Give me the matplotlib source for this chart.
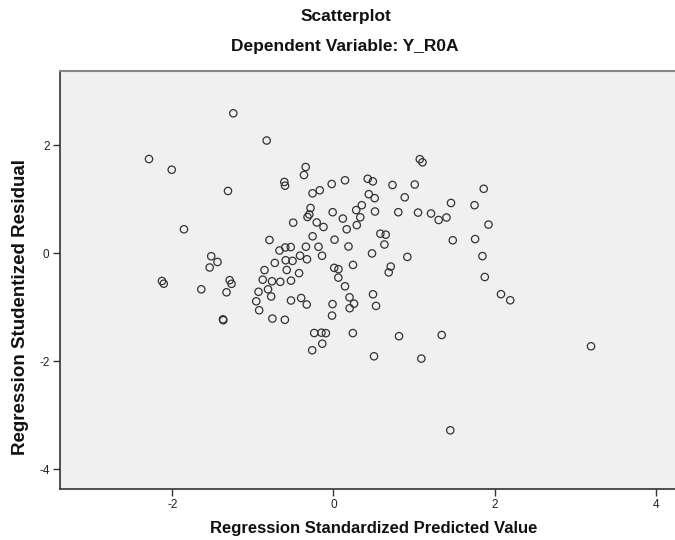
import matplotlib
matplotlib.use("Agg")
import matplotlib.pyplot as plt

plt.rcParams['font.family'] = ['Liberation Sans', 'DejaVu Sans']

title = "Scatterplot"
subtitle = "Dependent Variable: Y_R0A"
x_label = "Regression Standardized Predicted Value"
y_label = "Regression Studentized Residual"
x_ticks = [-2, 0, 2, 4]
y_ticks = [2, 0, -2, -4]

predicted = [
    -1.242, -0.828, -2.288, -2.006, -1.308, -0.344, -0.365, -0.609, -0.600, -0.021,
    0.144, 0.426, 0.489, -0.259, -0.169, 0.439, 0.512, 0.733, 1.009, 1.072,
    1.105, 1.865, 0.885, -1.854, -0.284, -0.299, -0.321, -0.009, 0.117, 0.352,
    0.283, 0.333, 0.290, 0.165, -0.499, -0.207, -0.123, -0.258, -0.793, 0.014,
    0.187, 0.516, 0.805, 1.050, 1.211, 1.306, 1.403, 1.459, 1.751, 1.924,
    0.583, 0.649, 0.633, 0.479, 0.917, 1.481, 1.758, 1.849, -0.669, -0.597,
    -0.529, -0.341, -0.185, -0.414, -0.328, -0.141, -0.592, -0.507, -0.727, -0.855,
    -0.579, -0.426, 0.010, 0.063, 0.243, -1.516, -1.438, -1.535, 0.711, 0.686,
    1.878, 0.061, 0.144, 0.200, 0.256, 0.202, -0.011, -0.017, 0.491, 0.529,
    2.079, 2.194, 0.241, 0.814, 1.344, 0.504, 1.091, 3.196, 1.450, -2.127,
    -2.105, -1.639, -1.287, -1.264, -1.326, -0.877, -0.762, -0.659, -0.526, -0.929,
    -0.811, -0.772, -0.957, -0.921, -0.526, -0.400, -0.331, -1.370, -1.366, -0.757,
    -0.602, -0.238, -0.148, -0.093, -0.138, -0.263,
]

residual = [
    2.591, 2.087, 1.744, 1.546, 1.152, 1.596, 1.448, 1.319, 1.250, 1.281,
    1.350, 1.378, 1.330, 1.109, 1.165, 1.093, 1.019, 1.263, 1.272, 1.741,
    1.683, 1.193, 1.035, 0.443, 0.837, 0.717, 0.670, 0.759, 0.641, 0.889,
    0.798, 0.665, 0.520, 0.443, 0.565, 0.569, 0.485, 0.313, 0.244, 0.250,
    0.124, 0.772, 0.759, 0.752, 0.735, 0.615, 0.661, 0.930, 0.889, 0.530,
    0.361, 0.343, 0.161, -0.004, -0.069, 0.239, 0.261, -0.054, 0.050, 0.106,
    0.113, 0.120, 0.119, -0.046, -0.113, -0.048, -0.131, -0.143, -0.180, -0.313,
    -0.311, -0.370, -0.272, -0.296, -0.217, -0.056, -0.163, -0.265, -0.248, -0.356,
    -0.441, -0.452, -0.613, -0.817, -0.935, -1.019, -0.943, -1.156, -0.761, -0.976,
    -0.759, -0.872, -1.480, -1.537, -1.515, -1.909, -1.952, -1.724, -3.280, -0.515,
    -0.565, -0.669, -0.500, -0.567, -0.724, -0.491, -0.520, -0.530, -0.509, -0.715,
    -0.669, -0.802, -0.891, -1.057, -0.876, -0.830, -0.950, -1.224, -1.241, -1.211,
    -1.233, -1.478, -1.472, -1.481, -1.676, -1.798,
]

fig = plt.figure(figsize=(6.75, 5.4), dpi=100)
ax = fig.add_axes([60/675, 1 - 489/540, 1 - 60/675, (489 - 71)/540])
ax.set_facecolor('#F0F0F0')
ax.scatter(predicted, residual, s=28, facecolors='none', edgecolors='#333333', linewidths=0.9)

ax.set_xlim(-3.392, 4.238)
ax.set_ylim(-4.367, 3.374)
ax.set_xticks(x_ticks)
ax.set_yticks(y_ticks)
ax.set_xticklabels([str(t) for t in x_ticks])
ax.set_yticklabels([str(t) for t in y_ticks])
ax.tick_params(direction='out', length=5, width=1, colors='#333333', labelsize=8.5, labelcolor='#222222', pad=2.5)

for side in ['left', 'bottom']:
    ax.spines[side].set_color('#333333')
    ax.spines[side].set_linewidth(1.2)
ax.spines['top'].set_color('#888888')
ax.spines['top'].set_linewidth(1.5)
ax.spines['right'].set_visible(False)

fig.text(346/675, 1 - 17/540, title, ha='center', va='center', fontsize=12.5, fontweight='bold', color='#111111')
fig.text(345/675, 1 - 46/540, subtitle, ha='center', va='center', fontsize=12.5, fontweight='bold', color='#111111')
fig.text(374/675, 1 - 528/540, x_label, ha='center', va='center', fontsize=12, fontweight='bold', color='#111111')
fig.text(21/675, 1 - 307/540, y_label, ha='center', va='center', rotation=90, fontsize=13.5, fontweight='bold', color='#111111')

fig.savefig('out.png', dpi=100)
